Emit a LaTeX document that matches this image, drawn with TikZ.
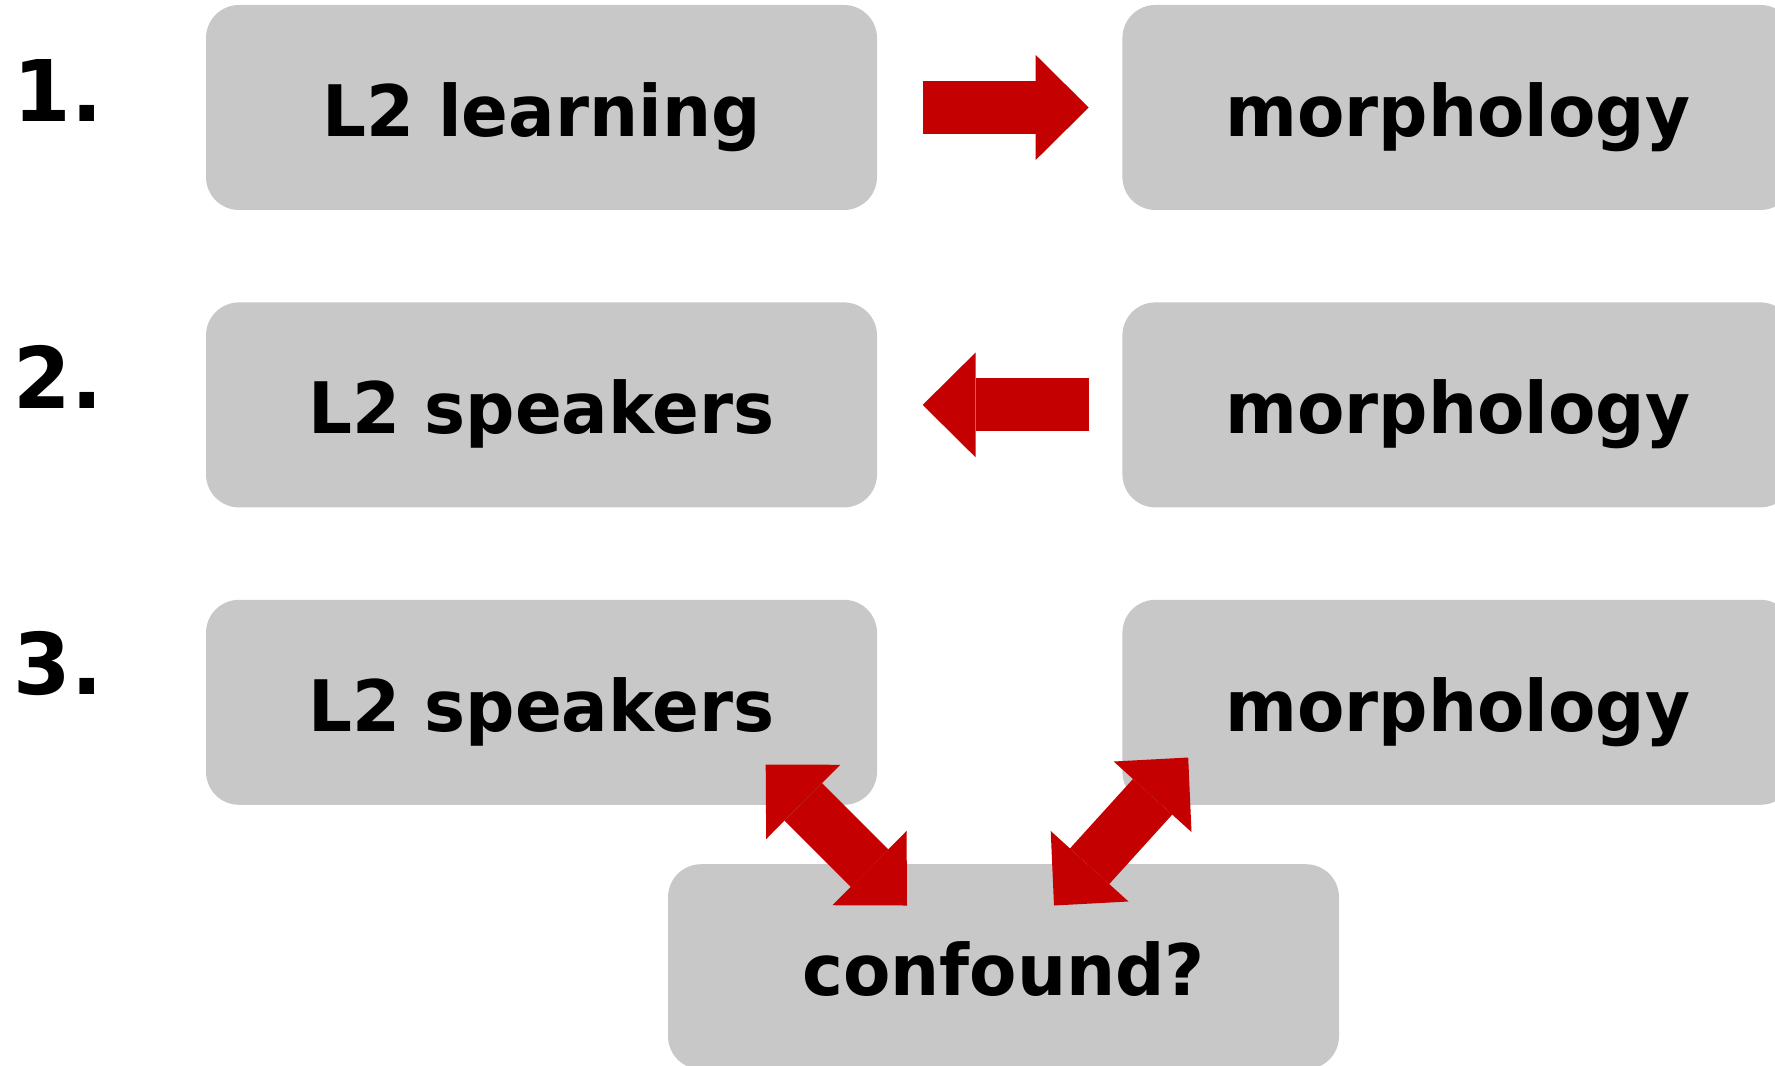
\documentclass[tikz,border=0pt]{standalone}
\usepackage{fontspec}
\setmainfont{DejaVu Sans}[FakeStretch=0.972]
\usetikzlibrary{arrows.meta, positioning}
\definecolor{boxgray}{HTML}{C8C8C8}
\definecolor{arrowred}{HTML}{C40000}
\tikzset{
    graybox/.style={rectangle, fill=boxgray, rounded corners=0.33cm, minimum width=6.71cm, minimum height=2.05cm, inner sep=0pt, text height=0.58cm, text depth=0cm, font=\fontsize{20.2}{24}\selectfont\bfseries, text centered},
    numlabel/.style={anchor=base west, inner sep=0pt, font=\fontsize{24.2}{29}\selectfont\bfseries},
    myarrow/.style={->, >={Triangle[length=0.53cm, width=1.05cm, line width=0pt]}, line width=0.53cm, draw=arrowred},
    mydblarrow/.style={myarrow, <->}
}
\begin{document}
\begin{tikzpicture}[node distance=0.91cm]
        \useasboundingbox (0,0) rectangle (17.75,-10.66);

        % ------------------
        % nodes
        % ------------------

        \node[graybox] (learn) at (5.415,-1.075) {L2 learning};
        \node[graybox, right=2.44cm of learn] (morph1) {morphology};

        \node[graybox, below=of learn] (speak2) {L2 speakers};
        \node[graybox, right=2.44cm of speak2] (morph2) {morphology};

        \node[graybox, below=of speak2] (speak3) {L2 speakers};
        \node[graybox, right=2.44cm of speak3] (morph3) {morphology};

        \node[graybox, below=0.58cm of speak3, xshift=4.62cm] (confound) {confound?};

        \node[numlabel] (num1) at (0.13,-1.22) {1.};
        \node[numlabel] (num2) at (0.13,-4.09) {2.};
        \node[numlabel] (num3) at (0.13,-6.95) {3.};

        \coordinate (speakend) at ([xshift=-1.12cm, yshift=0.41cm]speak3.south east);
        \coordinate (confleft) at ([xshift=-0.965cm, yshift=-0.42cm]confound.north);
        \coordinate (confright) at ([xshift=0.505cm, yshift=-0.42cm]confound.north);
        \coordinate (morphend) at ([xshift=0.665cm, yshift=0.48cm]morph3.south west);

        % ------------------
        % arrows
        % ------------------

        \draw[myarrow, shorten <=0.45cm, shorten >=0.33cm] (learn) -- (morph1);
        \draw[myarrow, shorten <=0.33cm, shorten >=0.45cm] (morph2) -- (speak2);
        \draw[mydblarrow] (speakend) -- (confleft);
        \draw[mydblarrow] (confright) -- (morphend);

\end{tikzpicture}
\end{document}
